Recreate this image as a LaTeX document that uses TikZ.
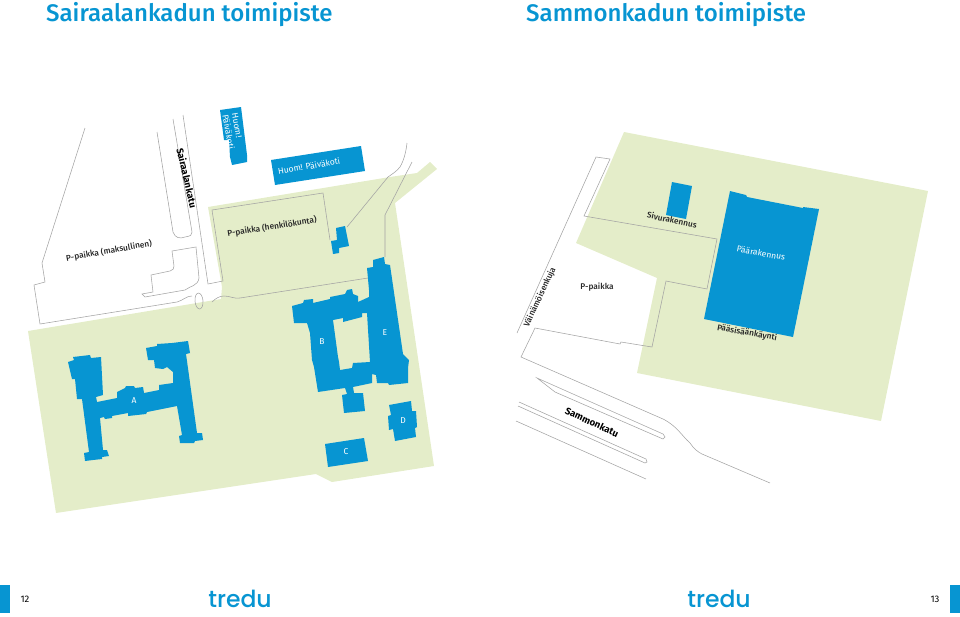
\documentclass[tikz,border=0pt]{standalone}
\usepackage{fontspec}
\setmainfont{Fira Sans}
\newfontfamily\titlefont{Fira Sans Medium}
\newfontfamily\logofont{Poppins Medium}
\usepackage{xcolor}
\definecolor{lawn}{HTML}{E4EDC9}
\definecolor{house}{HTML}{0795D2}
\definecolor{kerb}{HTML}{A3A3A3}
\tikzset{
    kerbline/.style={draw=kerb,line width=0.55pt},
    housefill/.style={fill=house,draw=none},
    lawnfill/.style={fill=lawn,draw=none},
    maptext/.style={font=\fontsize{8.3}{9.5}\titlefont,text=black!85,inner sep=0pt},
    housetext/.style={font=\fontsize{8.5}{9.5}\selectfont,text=white,inner sep=0pt,align=left},
    streettext/.style={font=\fontsize{9.6}{11}\selectfont\bfseries,text=black,inner sep=0pt},
    titletext/.style={font=\fontsize{24}{28}\titlefont,text=house,inner sep=0pt,anchor=west},
    logotext/.style={font=\fontsize{23.5}{28}\logofont,text=house,inner sep=0pt},
    pagetext/.style={font=\fontsize{9.5}{11}\selectfont,text=black,inner sep=0pt},
}

\begin{document}
\begin{tikzpicture}[x=1pt,y=-1pt]
    \useasboundingbox (0,0) rectangle (960,616);

    % left map
    \fill [lawnfill] (28,331) -- (221,299) -- (222,287) -- (208,207) -- (390,177) -- (417,173) -- (430,162) -- (437,169) -- (395,203) -- (434,466) -- (332,482) -- (316,474) -- (56,513) -- cycle;
    \draw [kerbline] (183,115) -- (208,284) -- (223,281) -- (212,210) -- (323,193) -- (330,240);
    \draw [kerbline] (157,132) -- (173,232) .. controls (175,238) and (180,239) .. (185,237) .. controls (191,236) and (192,235) .. (192,232) -- (173,119);
    \draw [kerbline] (85,128) -- (42,263) -- (45,282) -- (34,285) -- (40,324) -- (177,302) .. controls (184,300) and (186,296) .. (192,296);
    \draw [kerbline] (196,247) -- (172,251) -- (174,266) .. controls (174,269) and (173,270) .. (170,271) -- (151,275) -- (153,292) -- (142,294) -- (145,297) -- (185,290) .. controls (190,286) and (198,286) .. (199,278) -- cycle;
    \draw [kerbline,rotate around={5:(199,301)}] (199,301) ellipse [x radius=4,y radius=8];
    \draw [kerbline] (212,302) .. controls (216,298) and (220,296) .. (224,296) .. controls (230,296) and (234,299) .. (240,298) -- (368,278);
    \draw [kerbline] (407,143) .. controls (406,152) and (404,160) .. (400,167) .. controls (396,172) and (392,174) .. (388,177) -- (347,227);
    \draw [kerbline] (412,162) -- (385,215) -- (385,257);

    % left map houses
    \fill [housefill] (220,110) -- (241,107) -- (247,155) -- (247,162) -- (232,165) -- (230,157) -- (229,140) -- (224,140) -- cycle;
    \fill [housefill] (271,160) -- (361,146) -- (365,171) -- (275,185) -- cycle;
    \fill [housefill] (336,228) -- (345,226) -- (349,246) -- (339,248) -- (339,253) -- (333,254) -- (331,241) -- (337,240) -- cycle;
    \fill [housefill] (68,362) -- (74,360) -- (73,357) -- (90,355) -- (91,358) -- (101,357) -- (103,395) -- (96,397) -- (97,402) -- (117,398) -- (117,392) -- (125,388) -- (126,386) -- (134,386) -- (135,388) -- (143,387) -- (144,393) -- (159,390) -- (159,385) -- (173,383) -- (173,372) -- (167,367) -- (163,369) -- (155,368) -- (154,360) -- (148,360) -- (146,348) -- (157,346) -- (157,344) -- (172,343) -- (188,341) -- (190,353) -- (186,354) -- (197,433) -- (202,433) -- (203,440) -- (195,441) -- (194,443) -- (180,443) -- (179,436) -- (182,435) -- (177,406) -- (147,412) -- (146,414) -- (128,416) -- (128,413) -- (112,416) -- (112,418) -- (105,419) -- (104,417) -- (100,418) -- (103,450) -- (107,450) -- (109,456) -- (102,457) -- (102,459) -- (93,460) -- (85,461) -- (84,453) -- (89,452) -- (82,399) -- (77,399) -- (75,379) -- (72,379) -- cycle;
    \fill [housefill,even odd rule] (373,260) -- (384,257) -- (385,264) -- (390,265) -- (403,354) -- (409,360) -- (408,368) -- (408,383) -- (389,385) -- (388,383) -- (377,383) -- (376,375) -- (372,374) -- (372,383) -- (353,387) -- (354,393) -- (363,393) -- (365,411) -- (344,413) -- (342,395) -- (347,394) -- (345,388) -- (318,392) -- (314,367) -- (312,360) -- (310,333) -- (307,323) -- (294,323) -- (292,306) -- (303,303) -- (304,300) -- (313,299) -- (313,303) -- (330,299) -- (330,297) -- (345,294) -- (347,290) -- (352,289) -- (353,294) -- (358,296) -- (358,302) -- (369,297) -- (369,290) -- (367,268) -- (373,267) -- cycle
        (333,320) -- (343,318) -- (343,322) -- (362,317) -- (362,313) -- (367,313) -- (370,362) -- (353,363) -- (352,368) -- (340,370) -- (339,362) -- (338,357) -- cycle;
    \fill [housefill] (325,444) -- (364,438) -- (368,461) -- (328,467) -- cycle;
    \fill [housefill] (389,405) -- (411,401) -- (412,411) -- (416,411) -- (417,427) -- (415,428) -- (416,437) -- (395,441) -- (393,429) -- (389,430) -- (388,416) -- (391,415) -- cycle;

    % left map texts
    \path (233,131) node [housetext,rotate=-80] (daycareone) {Huom!\\Päiväkoti};
    \path (309,166) node [housetext,rotate=10] (daycaretwo) {Huom! Päiväkoti};
    \path (134,401) node [housetext] (housea) {A};
    \path (322,342) node [housetext] (houseb) {B};
    \path (346,452) node [housetext] (housec) {C};
    \path (403,421) node [housetext] (housed) {D};
    \path (385,333) node [housetext] (housee) {E};
    \path (109,251) node [maptext,rotate=10] (paidpark) {P-paikka (maksullinen)};
    \path (272,227) node [maptext,rotate=9] (staffpark) {P-paikka (henkilökunta)};
    \path (187,178) node [streettext,rotate=-77] (sairaala) {Sairaalankatu};

    % right map
    \fill [lawnfill] (624,132) -- (928,191) -- (881,421) -- (637,373) -- (657,278) -- (576,243) -- cycle;
    \draw [kerbline] (517,333) -- (596,157) -- (610,159) -- (584,216) -- (717,239) -- (707,289) -- (666,281) -- (652,347) -- (621,342) -- (620,344) -- (535,328) -- (521,357) -- (663,419) .. controls (677,426) and (682,436) .. (690,443) .. controls (694,449) and (698,452) .. (702,454) -- (770,483);
    \draw [kerbline] (537,378) -- (663,434) -- (665,437) -- (663,439) -- (555,392) -- cycle;
    \draw [kerbline] (519,402) -- (646,459) -- (647,462) -- (645,463) -- (518,406);
    \draw [kerbline] (516,421) -- (646,479);
    \fill [housefill] (672,182) -- (692,186) -- (686,219) -- (666,215) -- cycle;
    \fill [housefill] (730,191) -- (746,195) -- (747,197) -- (803,208) -- (803,207) -- (819,209) -- (793,337) -- (704,319) -- cycle;
    \path (672,220) node [maptext,rotate=-12] (sidehouse) {Sivurakennus};
    \path (761,253) node [housetext,rotate=-10] (mainhouse) {Päärakennus};
    \path (747,333) node [maptext,rotate=-10] (mainentry) {Pääsisäänkäynti};
    \path (597,287) node [maptext] (park) {P-paikka};
    \path (540,297) node [maptext,rotate=65] (vainamoinen) {Väinämöisenkuja};
    \path (592,422) node [streettext,rotate=-25] (sammon) {Sammonkatu};

    % titles and footer
    \path (46,15) node [titletext] (titleleft) {Sairaalankadun toimipiste};
    \path (526,15) node [titletext] (titleright) {Sammonkadun toimipiste};
    \fill [housefill] (0,585) rectangle (10,613);
    \fill [housefill] (950,585) rectangle (960,613);
    \path (25,599) node [pagetext] (pageleft) {12};
    \path (935,599) node [pagetext] (pageright) {13};
    \path (240,599) node [logotext] (logoleft) {tredu};
    \path (719,599) node [logotext] (logoright) {tredu};
\end{tikzpicture}
\end{document}
